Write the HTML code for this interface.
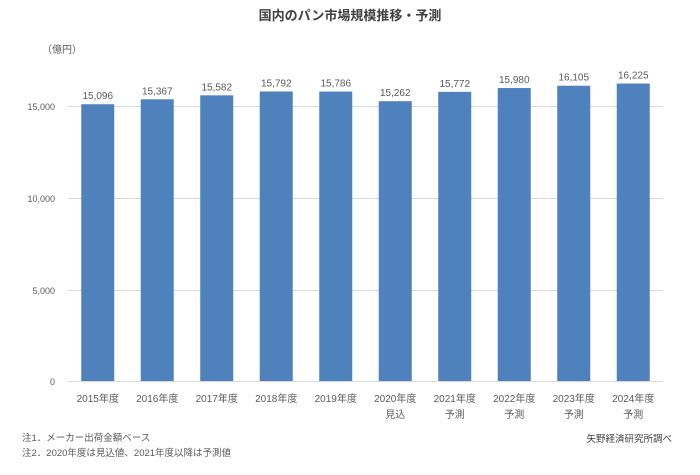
<!DOCTYPE html>
<html><head><meta charset="utf-8"><style>
body{margin:0;background:#fff;}
svg text{font-family:"Liberation Sans","Noto Sans CJK JP",sans-serif;fill:#595959;}
</style></head><body>
<svg width="700" height="470" viewBox="0 0 700 470" xmlns="http://www.w3.org/2000/svg">
<rect width="700" height="470" fill="#fff"/>
<text x="350" y="20" font-size="13" font-weight="bold" text-anchor="middle" fill="#404040" style="fill:#404040">国内のパン市場規模推移・予測</text>
<text x="42" y="53" font-size="10">（億円）</text>
<g stroke="#d9d9d9" stroke-width="1">
<line x1="68" y1="106.5" x2="663" y2="106.5"/>
<line x1="68" y1="198.5" x2="663" y2="198.5"/>
<line x1="68" y1="290.5" x2="663" y2="290.5"/>
<line x1="68" y1="381.5" x2="663" y2="381.5"/>
</g>
<g font-size="9" text-anchor="end">
<text x="55" y="110">15,000</text>
<text x="55" y="202">10,000</text>
<text x="55" y="294">5,000</text>
<text x="55" y="385">0</text>
</g>
<g fill="#4f81bd" id="bars"></g>
<g id="labels" font-size="10" text-anchor="middle"></g>
<g font-size="9.5">
<text x="22" y="441">注1．メーカー出荷金額ベース</text>
<text x="22" y="456">注2．2020年度は見込値、2021年度以降は予測値</text>
<text x="672" y="442" text-anchor="end" style="fill:#404040">矢野経済研究所調べ</text>
</g>
<script>
var v=[15096,15367,15582,15792,15786,15262,15772,15980,16105,16225];
var sub=["","","","","","見込","予測","予測","予測","予測"];
var b=document.getElementById("bars"),l=document.getElementById("labels"),ns="http://www.w3.org/2000/svg";
for(var i=0;i<10;i++){
 var cx=68+29.75+i*59.5,h=v[i]*275/15000,y=381-h;
 var r=document.createElementNS(ns,"rect");
 r.setAttribute("x",cx-16.5);r.setAttribute("y",y);r.setAttribute("width",33);r.setAttribute("height",h);r.setAttribute("fill","#4f81bd");b.appendChild(r);
 var t=document.createElementNS(ns,"text");t.setAttribute("x",cx);t.setAttribute("y",y-5);t.textContent=v[i].toLocaleString("en-US");l.appendChild(t);
 t=document.createElementNS(ns,"text");t.setAttribute("x",cx);t.setAttribute("y",402);t.textContent=(2015+i)+"年度";l.appendChild(t);
 if(sub[i]){t=document.createElementNS(ns,"text");t.setAttribute("x",cx);t.setAttribute("y",418);t.textContent=sub[i];l.appendChild(t);}
}
</script>
</svg>
</body></html>
